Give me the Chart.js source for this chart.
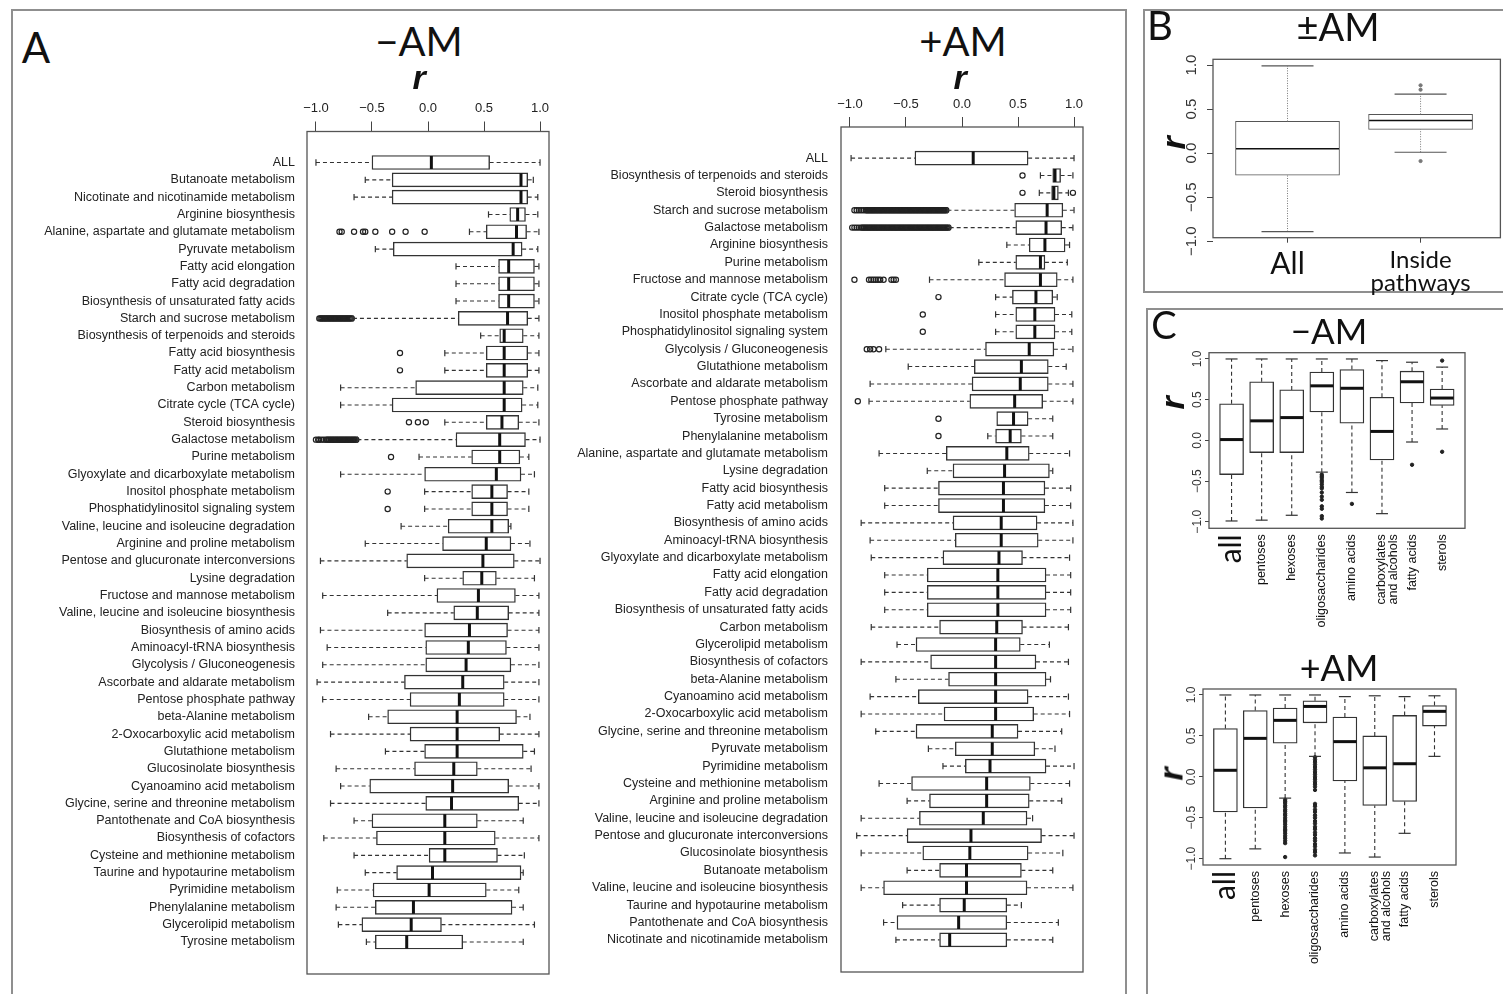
<!DOCTYPE html>
<html>
<head>
<meta charset="utf-8">
<script src="https://cdn.jsdelivr.net/npm/chart.js@4.4.1/dist/chart.umd.min.js"></script>
<style>
body{margin:0;background:#fff;width:1503px;height:994px;overflow:hidden;position:relative;font-family:"Liberation Sans",Arial,sans-serif}
.frame{position:absolute;border:2px solid #8f8f8f;box-sizing:border-box}
canvas{position:absolute}
.t{position:absolute;white-space:nowrap;line-height:1;transform:translate(-50%,-50%);color:#111;font-family:Lato,"Open Sans",sans-serif}
.r{position:absolute;line-height:1;font:italic bold 34px "Liberation Sans",Arial,sans-serif;color:#111;transform:translate(-50%,-50%)}
.rv{transform:translate(-50%,-50%) rotate(-90deg)}
</style>
</head>
<body>
<div class="frame" style="left:11px;top:9px;width:1116px;height:1000px"></div>
<div class="frame" style="left:1143px;top:9px;width:370px;height:284px"></div>
<div class="frame" style="left:1146px;top:308px;width:370px;height:700px"></div>

<canvas id="aMinus" width="535" height="902" style="left:20px;top:92px"></canvas>
<canvas id="aPlus" width="530" height="906" style="left:560px;top:88px"></canvas>
<canvas id="bBoth" width="353" height="255" style="left:1150px;top:45px"></canvas>
<canvas id="cMinus" width="353" height="315" style="left:1150px;top:330px"></canvas>
<canvas id="cPlus" width="358" height="322" style="left:1145px;top:672px"></canvas>

<div class="t" style="left:36px;top:47px;font-size:42px">A</div>
<div class="t" style="left:419px;top:41px;font-size:40px">&minus;AM</div>
<div class="r" style="left:419px;top:77px">r</div>
<div class="t" style="left:963px;top:41px;font-size:40px">+AM</div>
<div class="r" style="left:960px;top:77px">r</div>
<div class="t" style="left:1160px;top:25px;font-size:40px">B</div>
<div class="t" style="left:1338px;top:26px;font-size:38px">&plusmn;AM</div>
<div class="r rv" style="left:1173px;top:143px">r</div>
<div class="t" style="left:1164px;top:324px;font-size:38px">C</div>
<div class="t" style="left:1329px;top:330px;font-size:35px">&minus;AM</div>
<div class="r rv" style="left:1172px;top:403px">r</div>
<div class="t" style="left:1339px;top:667px;font-size:36px">+AM</div>
<div class="r rv" style="left:1171px;top:774px">r</div>

<script>
Chart.defaults.font.family = '"Liberation Sans", Arial, sans-serif';
Chart.defaults.color = '#222';

const rTicks = [-1, -0.5, 0, 0.5, 1];

// ---- panel A, -AM ----
const pathwaysMinus = ['ALL', 'Butanoate metabolism', 'Nicotinate and nicotinamide metabolism', 'Arginine biosynthesis',
  'Alanine, aspartate and glutamate metabolism', 'Pyruvate metabolism', 'Fatty acid elongation', 'Fatty acid degradation',
  'Biosynthesis of unsaturated fatty acids', 'Starch and sucrose metabolism', 'Biosynthesis of terpenoids and steroids',
  'Fatty acid biosynthesis', 'Fatty acid metabolism', 'Carbon metabolism', 'Citrate cycle (TCA cycle)', 'Steroid biosynthesis',
  'Galactose metabolism', 'Purine metabolism', 'Glyoxylate and dicarboxylate metabolism', 'Inositol phosphate metabolism',
  'Phosphatidylinositol signaling system', 'Valine, leucine and isoleucine degradation', 'Arginine and proline metabolism',
  'Pentose and glucuronate interconversions', 'Lysine degradation', 'Fructose and mannose metabolism',
  'Valine, leucine and isoleucine biosynthesis', 'Biosynthesis of amino acids', 'Aminoacyl-tRNA biosynthesis',
  'Glycolysis / Gluconeogenesis', 'Ascorbate and aldarate metabolism', 'Pentose phosphate pathway', 'beta-Alanine metabolism',
  '2-Oxocarboxylic acid metabolism', 'Glutathione metabolism', 'Glucosinolate biosynthesis', 'Cyanoamino acid metabolism',
  'Glycine, serine and threonine metabolism', 'Pantothenate and CoA biosynthesis', 'Biosynthesis of cofactors',
  'Cysteine and methionine metabolism', 'Taurine and hypotaurine metabolism', 'Pyrimidine metabolism',
  'Phenylalanine metabolism', 'Glycerolipid metabolism', 'Tyrosine metabolism'];
const lowMinus = [-1.0, -0.56, -0.66, 0.54, 0.37, -0.47, 0.25, 0.25, 0.25, -0.67, 0.47, 0.15, 0.15, -0.78, -0.78, 0.15,
  -0.63, -0.08, -0.78, -0.03, -0.03, -0.24, -0.56, -0.96, -0.03, -0.94, -0.36, -0.96, -0.90, -0.94, -0.99, -0.94, -0.53,
  -0.87, -0.38, -0.82, -0.78, -0.87, -0.66, -0.93, -0.66, -0.56, -0.81, -0.82, -0.80, -0.55];
const q1Minus = [-0.50, -0.32, -0.32, 0.73, 0.52, -0.31, 0.63, 0.63, 0.63, 0.27, 0.64, 0.52, 0.52, -0.11, -0.32, 0.52,
  0.25, 0.39, -0.03, 0.39, 0.39, 0.18, 0.13, -0.19, 0.31, 0.08, 0.23, -0.03, -0.02, -0.02, -0.21, -0.16, -0.36,
  -0.16, -0.03, -0.12, -0.52, -0.02, -0.50, -0.46, 0.01, -0.28, -0.49, -0.47, -0.59, -0.47];
const medMinus = [0.03, 0.83, 0.83, 0.80, 0.79, 0.76, 0.72, 0.72, 0.72, 0.71, 0.68, 0.68, 0.68, 0.68, 0.68, 0.66,
  0.64, 0.64, 0.61, 0.57, 0.57, 0.57, 0.52, 0.49, 0.48, 0.45, 0.44, 0.37, 0.36, 0.34, 0.31, 0.28, 0.26,
  0.26, 0.26, 0.23, 0.22, 0.21, 0.15, 0.15, 0.15, 0.04, 0.01, -0.13, -0.15, -0.19];
const q3Minus = [0.55, 0.89, 0.89, 0.87, 0.88, 0.84, 0.95, 0.95, 0.95, 0.89, 0.85, 0.89, 0.89, 0.85, 0.84, 0.81,
  0.87, 0.82, 0.83, 0.71, 0.71, 0.72, 0.74, 0.77, 0.61, 0.78, 0.72, 0.71, 0.70, 0.74, 0.68, 0.68, 0.79,
  0.64, 0.85, 0.44, 0.72, 0.81, 0.44, 0.60, 0.62, 0.83, 0.52, 0.75, 0.12, 0.31];
const highMinus = [1.0, 0.94, 0.98, 0.98, 0.99, 0.98, 0.99, 0.99, 0.99, 0.99, 0.99, 0.99, 0.99, 0.98, 0.98, 0.99,
  1.0, 0.90, 0.95, 0.90, 0.90, 0.74, 0.91, 1.0, 0.95, 0.99, 0.99, 0.99, 0.99, 0.99, 0.99, 0.99, 0.91,
  0.99, 0.95, 0.92, 0.99, 0.99, 0.85, 0.99, 0.86, 0.85, 0.81, 0.85, 0.95, 0.85];
const outMinus = [[], [], [], [],
  [-0.79, -0.77, -0.66, -0.58, -0.56, -0.47, -0.32, -0.20, -0.03],
  [], [], [], [],
  [-0.97, -0.96, -0.95, -0.94, -0.93, -0.92, -0.91, -0.90, -0.89, -0.88, -0.87, -0.86, -0.85, -0.84, -0.83, -0.82, -0.81,
   -0.80, -0.79, -0.78, -0.77, -0.76, -0.75, -0.74, -0.73, -0.72, -0.71, -0.70, -0.69, -0.68],
  [], [-0.25], [-0.25], [], [], [-0.17, -0.09, -0.02],
  [-1.0, -0.98, -0.97, -0.95, -0.93, -0.91, -0.90, -0.89, -0.88, -0.87, -0.86, -0.85, -0.84, -0.83, -0.82, -0.81, -0.80,
   -0.79, -0.78, -0.77, -0.76, -0.75, -0.74, -0.73, -0.72, -0.71, -0.70, -0.69, -0.68, -0.67, -0.66, -0.65, -0.64],
  [-0.33], [], [-0.36], [-0.36],
  [], [], [], [], [], [], [], [], [], [], [], [], [], [], [], [], [], [], [], [], [], [], [], [], []];

// ---- panel A, +AM ----
const pathwaysPlus = ['ALL', 'Biosynthesis of terpenoids and steroids', 'Steroid biosynthesis', 'Starch and sucrose metabolism',
  'Galactose metabolism', 'Arginine biosynthesis', 'Purine metabolism', 'Fructose and mannose metabolism',
  'Citrate cycle (TCA cycle)', 'Inositol phosphate metabolism', 'Phosphatidylinositol signaling system',
  'Glycolysis / Gluconeogenesis', 'Glutathione metabolism', 'Ascorbate and aldarate metabolism', 'Pentose phosphate pathway',
  'Tyrosine metabolism', 'Phenylalanine metabolism', 'Alanine, aspartate and glutamate metabolism', 'Lysine degradation',
  'Fatty acid biosynthesis', 'Fatty acid metabolism', 'Biosynthesis of amino acids', 'Aminoacyl-tRNA biosynthesis',
  'Glyoxylate and dicarboxylate metabolism', 'Fatty acid elongation', 'Fatty acid degradation',
  'Biosynthesis of unsaturated fatty acids', 'Carbon metabolism', 'Glycerolipid metabolism', 'Biosynthesis of cofactors',
  'beta-Alanine metabolism', 'Cyanoamino acid metabolism', '2-Oxocarboxylic acid metabolism',
  'Glycine, serine and threonine metabolism', 'Pyruvate metabolism', 'Pyrimidine metabolism',
  'Cysteine and methionine metabolism', 'Arginine and proline metabolism', 'Valine, leucine and isoleucine degradation',
  'Pentose and glucuronate interconversions', 'Glucosinolate biosynthesis', 'Butanoate metabolism',
  'Valine, leucine and isoleucine biosynthesis', 'Taurine and hypotaurine metabolism', 'Pantothenate and CoA biosynthesis',
  'Nicotinate and nicotinamide metabolism'];
const lowPlus = [-0.99, 0.70, 0.69, -0.13, -0.11, 0.40, 0.15, -0.29, 0.30, 0.30, 0.30, -0.68, -0.48, -0.82, -0.83,
  0.31, 0.23, -0.74, -0.31, -0.69, -0.69, -0.90, -0.82, -0.81, -0.69, -0.69, -0.69, -0.81, -0.58, -0.90,
  -0.59, -0.82, -0.90, -0.77, -0.30, -0.17, -0.74, -0.49, -0.90, -0.94, -0.90, -0.49, -0.90, -0.53, -0.70, -0.59];
const q1Plus = [-0.42, 0.81, 0.80, 0.47, 0.48, 0.60, 0.48, 0.38, 0.45, 0.48, 0.48, 0.21, 0.11, 0.09, 0.07,
  0.31, 0.30, -0.14, -0.08, -0.21, -0.21, -0.08, -0.06, -0.17, -0.31, -0.31, -0.31, -0.20, -0.41, -0.28,
  -0.12, -0.39, -0.16, -0.41, -0.06, 0.03, -0.45, -0.29, -0.38, -0.49, -0.35, -0.20, -0.70, -0.20, -0.58, -0.20];
const medPlus = [0.10, 0.83, 0.82, 0.76, 0.75, 0.74, 0.70, 0.70, 0.66, 0.65, 0.65, 0.60, 0.53, 0.52, 0.47,
  0.46, 0.43, 0.40, 0.38, 0.37, 0.37, 0.35, 0.35, 0.33, 0.32, 0.32, 0.32, 0.31, 0.30, 0.30,
  0.30, 0.30, 0.30, 0.27, 0.27, 0.25, 0.22, 0.22, 0.19, 0.08, 0.07, 0.04, 0.04, 0.02, -0.03, -0.11];
const q3Plus = [0.59, 0.88, 0.86, 0.90, 0.89, 0.92, 0.74, 0.85, 0.81, 0.83, 0.83, 0.82, 0.77, 0.77, 0.72,
  0.59, 0.53, 0.60, 0.78, 0.74, 0.74, 0.67, 0.68, 0.54, 0.75, 0.75, 0.75, 0.54, 0.52, 0.66,
  0.75, 0.59, 0.64, 0.50, 0.65, 0.75, 0.61, 0.60, 0.58, 0.71, 0.59, 0.53, 0.58, 0.40, 0.40, 0.40];
const highPlus = [1.0, 0.99, 0.95, 1.0, 0.99, 0.96, 0.94, 0.99, 0.85, 0.98, 0.98, 0.99, 0.93, 0.99, 0.99,
  0.81, 0.81, 0.96, 0.81, 0.97, 0.97, 0.99, 0.99, 0.96, 0.97, 0.97, 0.97, 0.95, 0.78, 0.95,
  0.79, 0.95, 0.96, 0.89, 0.83, 1.0, 0.96, 0.89, 0.63, 1.0, 0.90, 0.81, 0.99, 0.53, 0.86, 0.81];
const outPlus = [[], [0.54], [0.54, 0.99],
  [-0.96, -0.94, -0.92, -0.90, -0.88, -0.86, -0.85, -0.84, -0.83, -0.82, -0.81, -0.80, -0.79, -0.78, -0.77, -0.76, -0.75,
   -0.74, -0.73, -0.72, -0.71, -0.70, -0.69, -0.68, -0.67, -0.66, -0.65, -0.64, -0.63, -0.62, -0.61, -0.60, -0.59, -0.58,
   -0.57, -0.56, -0.55, -0.54, -0.53, -0.52, -0.51, -0.50, -0.49, -0.48, -0.47, -0.46, -0.45, -0.44, -0.43, -0.42, -0.41,
   -0.40, -0.39, -0.38, -0.37, -0.36, -0.35, -0.34, -0.33, -0.32, -0.31, -0.30, -0.29, -0.28, -0.27, -0.26, -0.25, -0.24,
   -0.23, -0.22, -0.21, -0.20, -0.19, -0.18, -0.17, -0.16, -0.15, -0.14],
  [-0.98, -0.96, -0.94, -0.92, -0.90, -0.89, -0.88, -0.87, -0.86, -0.85, -0.84, -0.83, -0.82, -0.81, -0.80, -0.79, -0.78,
   -0.77, -0.76, -0.75, -0.74, -0.73, -0.72, -0.71, -0.70, -0.69, -0.68, -0.67, -0.66, -0.65, -0.64, -0.63, -0.62, -0.61,
   -0.60, -0.59, -0.58, -0.57, -0.56, -0.55, -0.54, -0.53, -0.52, -0.51, -0.50, -0.49, -0.48, -0.47, -0.46, -0.45, -0.44,
   -0.43, -0.42, -0.41, -0.40, -0.39, -0.38, -0.37, -0.36, -0.35, -0.34, -0.33, -0.32, -0.31, -0.30, -0.29, -0.28, -0.27,
   -0.26, -0.25, -0.24, -0.23, -0.22, -0.21, -0.20, -0.19, -0.18, -0.17, -0.16, -0.15, -0.14, -0.13, -0.12],
  [], [],
  [-0.96, -0.83, -0.81, -0.79, -0.77, -0.75, -0.73, -0.70, -0.63, -0.61, -0.59],
  [-0.21], [-0.35], [-0.35], [-0.85, -0.82, -0.79, -0.74], [], [], [-0.93], [-0.21], [-0.21],
  [], [], [], [], [], [], [], [], [], [], [], [], [], [], [], [], [], [], [], [], [], [], [], [], [], [], [], [], []];

// ---- panel B ----
const groupsB = ['All', ['Inside', 'pathways']];
const lowB = [-0.89, 0.01];
const q1B = [-0.25, 0.27];
const medB = [0.05, 0.37];
const q3B = [0.36, 0.44];
const highB = [0.99, 0.67];
const outB = [[], [0.77, 0.72, -0.09]];

// ---- panel C ----
const groupsC = ['all', 'pentoses', 'hexoses', 'oligosaccharides', 'amino acids', ['carboxylates', 'and alcohols'], 'fatty acids', 'sterols'];
const lowCMinus = [-0.99, -0.98, -0.92, -0.39, -0.64, -0.90, -0.02, 0.14];
const q1CMinus = [-0.42, -0.15, -0.15, 0.35, 0.21, -0.24, 0.46, 0.43];
const medCMinus = [0.01, 0.24, 0.28, 0.67, 0.64, 0.11, 0.72, 0.52];
const q3CMinus = [0.45, 0.72, 0.62, 0.84, 0.87, 0.53, 0.85, 0.63];
const highCMinus = [1.0, 1.0, 1.0, 1.0, 1.0, 0.98, 0.96, 0.90];
const outCMinus = [[], [], [],
  [-0.42, -0.44, -0.46, -0.49, -0.51, -0.54, -0.57, -0.59, -0.64, -0.69, -0.73, -0.81, -0.84, -0.93, -0.96],
  [-0.78], [], [-0.30], [0.98, -0.14]];
const lowCPlus = [-1.0, -0.88, -0.26, 0.25, -0.93, -0.98, -0.69, 0.25];
const q1CPlus = [-0.43, -0.38, 0.41, 0.66, -0.05, -0.35, -0.30, 0.62];
const medCPlus = [0.08, 0.47, 0.69, 0.86, 0.43, 0.11, 0.16, 0.80];
const q3CPlus = [0.59, 0.81, 0.84, 0.93, 0.73, 0.50, 0.75, 0.87];
const highCPlus = [1.0, 1.0, 1.0, 1.0, 0.98, 0.99, 0.98, 0.99];
const outCPlus = [[], [],
  [-0.28, -0.30, -0.32, -0.35, -0.37, -0.40, -0.42, -0.45, -0.47, -0.50, -0.53, -0.55, -0.58, -0.61, -0.64, -0.66, -0.69, -0.72, -0.75, -0.78, -0.81, -0.98],
  [0.24, 0.21, 0.18, 0.15, 0.12, 0.09, 0.06, 0.03, 0.0, -0.03, -0.06, -0.09, -0.12, -0.16, -0.33, -0.36, -0.40, -0.43, -0.47,
   -0.50, -0.54, -0.57, -0.61, -0.64, -0.68, -0.71, -0.75, -0.78, -0.82, -0.85, -0.89, -0.92, -0.96],
  [], [], [], []];

const fmtR = v => (v < 0 ? '\u2212' : '') + Math.abs(v).toFixed(1);

// whiskers, caps, medians and the box frame, placed through the chart's scales
function boxPlugin(st) {
  return {
    id: 'boxplot',
    afterDatasetsDraw(chart) {
      const ctx = chart.ctx;
      const h = st.horizontal;
      const vs = chart.scales[h ? 'x' : 'y'];
      const is = chart.scales[h ? 'y' : 'x'];
      const seg = (a1, b1, a2, b2) => {
        ctx.beginPath();
        if (h) { ctx.moveTo(a1, b1); ctx.lineTo(a2, b2); } else { ctx.moveTo(b1, a1); ctx.lineTo(b2, a2); }
        ctx.stroke();
      };
      ctx.save();
      st.low.forEach((lo, i) => {
        const c = is.getPixelForValue(st.pos[i]);
        const half = (Array.isArray(st.thick) ? st.thick[i] : st.thick) / 2;
        const pLo = vs.getPixelForValue(lo), p1 = vs.getPixelForValue(st.q1[i]);
        const pM = vs.getPixelForValue(st.med[i]), p3 = vs.getPixelForValue(st.q3[i]);
        const pHi = vs.getPixelForValue(st.high[i]);
        ctx.strokeStyle = st.whiskColor;
        ctx.lineWidth = st.whiskLine;
        ctx.setLineDash(st.dash);
        if (lo < st.q1[i]) seg(pLo, c, p1, c);
        seg(p3, c, pHi, c);
        ctx.setLineDash([]);
        ctx.strokeStyle = st.color;
        ctx.lineWidth = 1.2;
        const cap = half * st.cap;
        if (lo < st.q1[i]) seg(pLo, c - cap, pLo, c + cap);
        seg(pHi, c - cap, pHi, c + cap);
        ctx.lineWidth = st.medLine;
        ctx.strokeStyle = '#111';
        seg(pM, c - half + 0.5, pM, c + half - 0.5);
      });
      ctx.restore();
    },
    afterDraw(chart) {
      const a = chart.chartArea, ctx = chart.ctx;
      ctx.save();
      ctx.strokeStyle = '#555';
      ctx.lineWidth = 1.3;
      ctx.strokeRect(a.left, a.top, a.right - a.left, a.bottom - a.top);
      ctx.restore();
    }
  };
}

function boxDatasets(st) {
  const sets = st.q1.map((q, i) => ({
    type: 'bar',
    indexAxis: st.horizontal ? 'y' : 'x',
    stack: 'box',
    data: [st.horizontal ? {x: [q, st.q3[i]], y: st.pos[i]} : {x: st.pos[i], y: [q, st.q3[i]]}],
    barThickness: Array.isArray(st.thick) ? st.thick[i] : st.thick,
    backgroundColor: '#ffffff',
    borderColor: st.color,
    borderWidth: st.boxLine,
    borderSkipped: false
  }));
  const pts = [];
  st.out.forEach((arr, i) => arr.forEach(v => pts.push(st.horizontal ? {x: v, y: st.pos[i]} : {x: st.pos[i], y: v})));
  sets.push({
    type: 'scatter', data: pts,
    pointRadius: st.outR, pointHoverRadius: st.outR, pointBorderWidth: st.outLine,
    pointBorderColor: st.outColor, pointBackgroundColor: st.outFill
  });
  return sets;
}

function baseOptions(padding, scales, horizontal) {
  return {
    responsive: false, animation: false, devicePixelRatio: 1, events: [],
    indexAxis: horizontal ? 'y' : 'x',
    layout: {padding},
    plugins: {legend: {display: false}, tooltip: {enabled: false}},
    scales
  };
}

function pathwayPanel(id, names, low, q1, med, q3, high, out, geom) {
  const st = {horizontal: true, pos: names.map((n, i) => i), low, q1, med, q3, high, out,
    thick: 14, cap: 0.45, color: '#333', whiskColor: '#333', whiskLine: 1.1, dash: [4, 3], boxLine: 1.4, medLine: 3,
    outR: 2.6, outLine: 1.2, outColor: '#222', outFill: 'rgba(255,255,255,0)'};
  new Chart(document.getElementById(id), {
    type: 'bar',
    data: {datasets: boxDatasets(st)},
    options: baseOptions(geom.padding, {
      x: {
        type: 'linear', position: 'top', min: -1.08, max: 1.08, offset: false,
        afterBuildTicks: s => { s.ticks = rTicks.map(v => ({value: v})); },
        afterFit: s => { s.height = geom.top; },
        ticks: {callback: v => fmtR(v), font: {size: 13}, color: '#222', padding: 5, maxRotation: 0, autoSkip: false},
        grid: {drawOnChartArea: false, drawTicks: true, tickLength: 10, color: '#444', offset: false},
        border: {display: false}
      },
      y: {
        type: 'linear', reverse: true, min: -1.79, max: 46.85, offset: false,
        afterBuildTicks: s => { s.ticks = names.map((n, i) => ({value: i})); },
        afterFit: s => { s.width = geom.left; },
        ticks: {callback: (v, i) => names[i], font: {size: 12.5}, color: '#222', padding: geom.labelPad, autoSkip: false},
        grid: {display: false, drawTicks: false, offset: false},
        border: {display: false}
      }
    }, true),
    plugins: [boxPlugin(st)]
  });
}

function groupPanel(id, groups, low, q1, med, q3, high, out, geom) {
  const st = {horizontal: false, pos: groups.map((g, i) => i + 1), low, q1, med, q3, high, out,
    thick: geom.thick, cap: 0.5, color: geom.color, whiskColor: geom.whiskColor, whiskLine: geom.whiskLine, dash: geom.dash,
    boxLine: geom.boxLine, medLine: geom.medLine, outR: geom.outR, outLine: 1, outColor: geom.outColor, outFill: geom.outColor};
  new Chart(document.getElementById(id), {
    type: 'bar',
    data: {datasets: boxDatasets(st)},
    options: baseOptions(geom.padding, {
      x: {
        type: 'linear', position: 'bottom', min: geom.xmin, max: geom.xmax, offset: false,
        afterBuildTicks: s => { s.ticks = groups.map((g, i) => ({value: i + 1})); },
        afterFit: s => { s.height = geom.bottom; },
        ticks: {callback: (v, i) => groups[i], autoSkip: false, minRotation: geom.xRot, maxRotation: geom.xRot,
          padding: geom.xPad, color: '#111', font: geom.xFont},
        grid: {drawOnChartArea: false, drawTicks: geom.xTick > 0, tickLength: geom.xTick, color: '#444', offset: false},
        border: {display: false}
      },
      y: {
        type: 'linear', position: 'left', min: geom.ymin, max: geom.ymax, offset: false,
        afterBuildTicks: s => { s.ticks = rTicks.map(v => ({value: v})); },
        afterFit: s => { s.width = geom.left; },
        ticks: {callback: v => fmtR(v), minRotation: 90, maxRotation: 90, crossAlign: 'center',
          padding: geom.yPad, font: {size: geom.yFont}, color: '#333', autoSkip: false},
        grid: {drawOnChartArea: false, drawTicks: true, tickLength: geom.yTick, color: '#444', offset: false},
        border: {display: false}
      }
    }, false),
    plugins: [boxPlugin(st)]
  });
}

pathwayPanel('aMinus', pathwaysMinus, lowMinus, q1Minus, medMinus, q3Minus, highMinus, outMinus,
  {left: 287, top: 39.5, labelPad: 12, padding: {top: 0, right: 6, bottom: 20, left: 0}});
pathwayPanel('aPlus', pathwaysPlus, lowPlus, q1Plus, medPlus, q3Plus, highPlus, outPlus,
  {left: 281, top: 39, labelPad: 13, padding: {top: 0, right: 7, bottom: 22, left: 0}});

groupPanel('bBoth', groupsB, lowB, q1B, medB, q3B, highB, outB, {
  left: 63, bottom: 62.3, padding: {top: 14.3, right: 2, bottom: 0, left: 0},
  xmin: 0.44, xmax: 2.6, ymin: -0.96, ymax: 1.065, thick: 104,
  color: '#555', whiskColor: '#777', whiskLine: 1, dash: [1, 1.5], boxLine: 1, medLine: 1.6, outR: 1.6, outColor: '#777',
  xRot: 0, xPad: 7, xTick: 5,
  xFont: c => c.index === 0 ? {size: 30, family: 'Lato', lineHeight: 1} : {size: 24, family: 'Lato', lineHeight: 0.92},
  yPad: 0, yFont: 15, yTick: 6
});

groupPanel('cMinus', groupsC, lowCMinus, q1CMinus, medCMinus, q3CMinus, highCMinus, outCMinus, {
  left: 59, bottom: 116.7, padding: {top: 22.7, right: 38, bottom: 0, left: 0},
  xmin: 0.25, xmax: 8.76, ymin: -1.08, ymax: 1.077, thick: 24,
  color: '#333', whiskColor: '#333', whiskLine: 1.1, dash: [4, 3], boxLine: 1.3, medLine: 3, outR: 1.7, outColor: '#222',
  xRot: 90, xPad: 6, xTick: 0,
  xFont: c => c.index === 0 ? {size: 30, family: 'Lato', lineHeight: 1} : {size: 12.5, lineHeight: 0.95},
  yPad: -5, yFont: 12, yTick: 4
});

groupPanel('cPlus', groupsC, lowCPlus, q1CPlus, medCPlus, q3CPlus, highCPlus, outCPlus, {
  left: 58, bottom: 129, padding: {top: 17, right: 47, bottom: 0, left: 0},
  xmin: 0.25, xmax: 8.72, ymin: -1.077, ymax: 1.073, thick: 24,
  color: '#333', whiskColor: '#333', whiskLine: 1.1, dash: [4, 3], boxLine: 1.3, medLine: 3, outR: 1.7, outColor: '#222',
  xRot: 90, xPad: 6, xTick: 0,
  xFont: c => c.index === 0 ? {size: 30, family: 'Lato', lineHeight: 1} : {size: 12.5, lineHeight: 0.95},
  yPad: -5, yFont: 12, yTick: 4
});
</script>
</body>
</html>
